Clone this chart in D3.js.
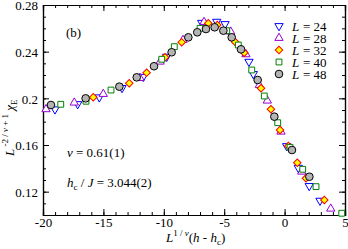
<!DOCTYPE html>
<meta charset="utf-8">
<head>
  <title>Scaling collapse</title>
</head>
<style>
body { margin: 0; background: #fff; }
text { font-family: "Liberation Serif", "Times New Roman", serif; font-size: 13px; fill: #000; }
</style>
<body>
<script src="https://cdn.jsdelivr.net/npm/d3@7"></script>
<script>

var w = 348, h = 249;
var margin = {top: 5, right: 3, bottom: 34, left: 43};

// data: x = L^{1/nu}(h - hc), y = L^{-2/nu+1} chi_E
var sizes = [24, 28, 32, 40, 48];

var x24 = [-19.01, -17.13, -15.34, -13.46, -11.70, -9.76, -6.86, -5.62, -4.93, -2.95, -2.59, 0.17, 1.13, 2.04, 2.93];
var y24 = [0.1906, 0.1951, 0.2009, 0.2089, 0.2185, 0.2357, 0.2648, 0.2657, 0.2637, 0.2314, 0.2209, 0.1591, 0.1405, 0.1249, 0.1123];

var x28 = [-19.75, -17.41, -15.01, -11.97, -10.31, -8.41, -6.67, -4.46, -3.20, -2.09, -1.43, -0.30, 1.42, 3.82];
var y28 = [0.1906, 0.1963, 0.2037, 0.2174, 0.2314, 0.2500, 0.2654, 0.2571, 0.2377, 0.2114, 0.1980, 0.1714, 0.1371, 0.1054];

var x32 = [-15.84, -12.86, -11.42, -9.90, -8.52, -6.32, -5.57, -4.11, -3.34, -1.95, -1.13, -0.38, 0.31, 1.05, 1.77, 3.29];
var y32 = [0.2009, 0.2129, 0.2220, 0.2352, 0.2480, 0.2643, 0.2629, 0.2485, 0.2391, 0.2086, 0.1906, 0.1729, 0.1591, 0.1448, 0.1315, 0.1129];

var x40 = [-18.53, -16.44, -14.37, -10.17, -9.13, -7.00, -4.79, -3.83, -2.72, -1.68, -0.57, 0.45, 1.50, 2.60, 4.73];
var y40 = [0.1949, 0.1975, 0.2071, 0.2335, 0.2443, 0.2600, 0.2580, 0.2457, 0.2243, 0.2020, 0.1791, 0.1580, 0.1392, 0.1243, 0.1015];

var x48 = [-19.34, -16.47, -13.68, -12.24, -10.81, -9.35, -7.97, -7.23, -6.51, -5.79, -5.07, -4.38, -3.61, -2.23, -0.85, 0.61, 2.05];
var y48 = [0.1943, 0.2000, 0.2100, 0.2180, 0.2275, 0.2395, 0.2523, 0.2566, 0.2594, 0.2609, 0.2580, 0.2523, 0.2420, 0.2157, 0.1843, 0.1557, 0.1328];

var xTicks = [-20, -15, -10, -5, 0, 5];
var yTicks = [0.12, 0.16, 0.2, 0.24, 0.28];

var series = [
  {L: 24, xs: x24, ys: y24, shape: d3.symbolTriangle, rot: 180, size: 30, stroke: "#0000ff", fill: "#ffffff"},
  {L: 28, xs: x28, ys: y28, shape: d3.symbolTriangle, rot: 0, size: 30, stroke: "#9400d3", fill: "#ffffff"},
  {L: 32, xs: x32, ys: y32, shape: d3.symbolSquare, rot: 45, size: 28, stroke: "#ff0000", fill: "#ffff00"},
  {L: 40, xs: x40, ys: y40, shape: d3.symbolSquare, rot: 0, size: 34, stroke: "#008000", fill: "#ffffff"},
  {L: 48, xs: x48, ys: y48, shape: d3.symbolCircle, rot: 0, size: 46, stroke: "#000000", fill: "#b4b4b4"}
];

var svg = d3.select("body").append("svg")
  .attr("width", w)
  .attr("height", h);

var x = d3.scaleLinear().domain([-20, 5]).range([margin.left, w - margin.right]);
var y = d3.scaleLinear().domain([0.10, 0.28]).range([h - margin.bottom, margin.top]);

// ticks on all four sides, pointing inward
var xMinor = d3.range(-20, 5.01, 1);
var yMinor = d3.range(0.10, 0.2801, 0.01);

var bottomAxis = d3.axisBottom(x).tickValues(xTicks).tickSize(-6).tickPadding(3)
  .tickFormat(function(d) { return d; });
var topAxis = d3.axisTop(x).tickValues(xTicks).tickSize(-6).tickFormat("");
var leftAxis = d3.axisLeft(y).tickValues(yTicks).tickSize(-6).tickPadding(5)
  .tickFormat(function(d) { return d3.format("")(+d.toFixed(2)); });
var rightAxis = d3.axisRight(y).tickValues(yTicks).tickSize(-6).tickFormat("");

function minor(axis, vals) { return axis.tickValues(vals).tickSize(-3).tickFormat(""); }

svg.append("g").attr("transform", "translate(0," + y(0.10) + ")").call(minor(d3.axisBottom(x), xMinor));
svg.append("g").attr("transform", "translate(0," + y(0.28) + ")").call(minor(d3.axisTop(x), xMinor));
svg.append("g").attr("transform", "translate(" + x(-20) + ",0)").call(minor(d3.axisLeft(y), yMinor));
svg.append("g").attr("transform", "translate(" + x(5) + ",0)").call(minor(d3.axisRight(y), yMinor));

svg.append("g").attr("class", "xb").attr("transform", "translate(0," + y(0.10) + ")").call(bottomAxis);
svg.append("g").attr("transform", "translate(0," + y(0.28) + ")").call(topAxis);
svg.append("g").attr("class", "yl").attr("transform", "translate(" + x(-20) + ",0)").call(leftAxis);
svg.append("g").attr("transform", "translate(" + x(5) + ",0)").call(rightAxis);

svg.selectAll(".domain").attr("stroke", "#000").attr("stroke-width", 1.2);
svg.selectAll(".tick line").attr("stroke", "#000");
svg.selectAll(".tick text").attr("font-family", "Liberation Serif").attr("font-size", 13).attr("fill", "#000");
svg.selectAll(".yl .tick text").attr("dy", "0.36em");

// markers
series.forEach(function(s) {
  var pts = s.xs.map(function(v, i) { return [v, s.ys[i]]; });
  svg.append("g").selectAll("path")
    .data(pts)
    .enter().append("path")
    .attr("d", d3.symbol().type(s.shape).size(s.size))
    .attr("transform", function(d) { return "translate(" + x(d[0]) + "," + y(d[1]) + ") rotate(" + s.rot + ")"; })
    .attr("fill", s.fill)
    .attr("stroke", s.stroke)
    .attr("stroke-width", 1);
});

// legend
var leg = svg.append("g");
series.forEach(function(s, i) {
  var yy = 26 + i * 12;
  leg.append("path")
    .attr("d", d3.symbol().type(s.shape).size(s.size))
    .attr("transform", "translate(279," + yy + ") rotate(" + s.rot + ")")
    .attr("fill", s.fill)
    .attr("stroke", s.stroke)
    .attr("stroke-width", 1);
  leg.append("text").attr("x", 292).attr("y", yy + 4.5)
    .attr("font-style", "italic").text("L");
  leg.append("text").attr("x", 303).attr("y", yy + 4.5)
    .text("= " + s.L);
});

// annotations
svg.append("text").attr("x", 66).attr("y", 37).text("(b)");

var nu = svg.append("text").attr("x", 67).attr("y", 157);
nu.append("tspan").attr("font-style", "italic").text("ν");
nu.append("tspan").text(" = 0.61(1)");

var hc = svg.append("text").attr("x", 67).attr("y", 187);
hc.append("tspan").attr("font-style", "italic").text("h");
hc.append("tspan").attr("font-size", 9).attr("dy", 3).text("c");
hc.append("tspan").attr("dy", -3).text(" / ");
hc.append("tspan").attr("font-style", "italic").text("J");
hc.append("tspan").text(" = 3.044(2)");

// x label
var xl = svg.append("text").attr("x", 166).attr("y", 242);
xl.append("tspan").attr("font-style", "italic").text("L");
xl.append("tspan").attr("font-size", 9).attr("dy", -6).text("1 / ");
xl.append("tspan").attr("font-size", 9).attr("font-style", "italic").text("ν");
xl.append("tspan").attr("dy", 6).text("(");
xl.append("tspan").attr("font-style", "italic").text("h");
xl.append("tspan").text(" - ");
xl.append("tspan").attr("font-style", "italic").text("h");
xl.append("tspan").attr("font-size", 9).attr("dy", 3).text("c");
xl.append("tspan").attr("dy", -3).text(")");

// y label
var yl = svg.append("text").attr("transform", "translate(14,156) rotate(-90)");
yl.append("tspan").attr("font-style", "italic").text("L");
yl.append("tspan").attr("font-size", 9).attr("dy", -6).text(" -2 / ");
yl.append("tspan").attr("font-size", 9).attr("font-style", "italic").text("ν");
yl.append("tspan").attr("font-size", 9).text(" + 1");
yl.append("tspan").attr("dy", 6).text(" ");
yl.append("tspan").attr("font-style", "italic").text("χ");
yl.append("tspan").attr("font-size", 9).attr("dy", 3).text("E");

</script>
</body>
